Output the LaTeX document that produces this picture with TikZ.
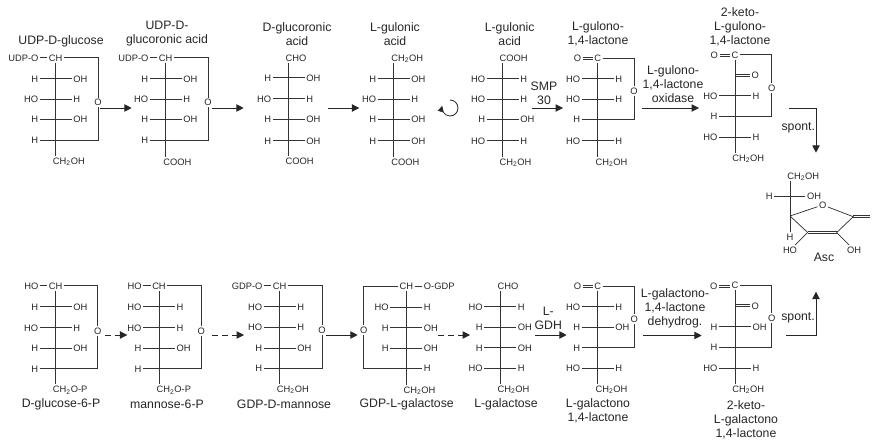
\documentclass[tikz,border=0pt]{standalone}
\usepackage{fontspec}
\setmainfont{Liberation Sans}
\usetikzlibrary{arrows.meta}

\newcommand{\chtwo}{CH\textsubscript{2}}

% one sugar: side groups on each row, then the backbone
\newcommand{\sugarchain}[3]{%
  \coordinate (#1x) at (#2,0);
  \foreach \rowy/\ltext/\rtext [count=\rowi] in {#3} {
    \node[atom,anchor=east] (#1l\rowi) at (#2-16,\rowy) {\ltext};
    \node[atom,anchor=west] (#1r\rowi) at (#2+16,\rowy) {\rtext};
    \draw[bond] (#1l\rowi.east) -- (#1r\rowi.west);
  }
  \draw[bond] (#1top.south -| #1x) -- (#1bot.north -| #1x);
}

% flat double bond
\newcommand{\dblbond}[2]{%
  \draw[bond] ([yshift=0.75pt]#1) -- ([yshift=0.75pt]#2);
  \draw[bond] ([yshift=-0.75pt]#1) -- ([yshift=-0.75pt]#2);
}

\tikzset{
  atom/.style={font=\fontsize{7}{8}\selectfont,inner sep=1pt,text height=5pt,text depth=0pt,text=black!85},
  title/.style={font=\fontsize{9.2}{10.5}\selectfont,align=center,inner sep=0pt,text=black!85},
  bond/.style={line width=0.55pt,black!80},
  rarrow/.style={line width=0.7pt,black!85,-{Triangle[length=5.5pt,width=5.5pt]}},
  darrow/.style={rarrow,dash pattern=on 4.5pt off 3pt}
}

\begin{document}
\begin{tikzpicture}[x=0.75pt,y=-0.75pt]
  \useasboundingbox (0,0) rectangle (872,440);

  % top row, UDP-D-glucose
  \node[title] (t1) at (61,41.7) {UDP-D-glucose};
  \node[atom] (s1top) at (55.7,57.7) {CH};
  \node[atom,anchor=east] (s1udp) at (40,57.7) {UDP-O};
  \node[atom,anchor=west] (s1bot) at (51.3,161) {\chtwo OH};
  \sugarchain{s1}{55.7}{78.7/H/OH,99.3/HO/H,119.3/H/OH,140.3/H/}
  \node[atom] (s1o) at (98,102.5) {O};
  \draw[bond] (s1udp) -- (s1top);
  \draw[bond] (s1top.east) -| (s1o.north);
  \draw[bond] (s1o.south) |- (s1r4.west);

  % UDP-D-glucoronic acid
  \node[title] (t2) at (167,34) {UDP-D-\\glucoronic acid};
  \node[atom] (s2top) at (165.7,57.7) {CH};
  \node[atom,anchor=east] (s2udp) at (150,57.7) {UDP-O};
  \node[atom,anchor=west] (s2bot) at (161.7,162) {COOH};
  \sugarchain{s2}{165.7}{78.7/H/OH,99.3/HO/H,119.3/H/OH,140.3/H/}
  \node[atom] (s2o) at (208,102.5) {O};
  \draw[bond] (s2udp) -- (s2top);
  \draw[bond] (s2top.east) -| (s2o.north);
  \draw[bond] (s2o.south) |- (s2r4.west);

  % D-glucoronic acid
  \node[title] (t3) at (297,34) {D-glucoronic\\acid};
  \node[atom,anchor=west] (s3top) at (284,58) {CHO};
  \node[atom,anchor=west] (s3bot) at (284,161) {COOH};
  \sugarchain{s3}{288.7}{77.7/H/OH,98.7/HO/H,119.3/H/OH,140.7/H/OH}

  % L-gulonic acid
  \node[title] (t4) at (395,34) {L-gulonic\\acid};
  \node[atom,anchor=west] (s4top) at (389.7,58) {\chtwo OH};
  \node[atom,anchor=west] (s4bot) at (389.7,162) {COOH};
  \sugarchain{s4}{393.7}{78.7/H/OH,99.3/HO/H,119.3/H/OH,140.7/H/OH}

  % flipped L-gulonic acid
  \node[title] (t5) at (509.7,34) {L-gulonic\\acid};
  \node[atom,anchor=west] (s5top) at (498,58) {COOH};
  \node[atom,anchor=west] (s5bot) at (498,162) {\chtwo OH};
  \sugarchain{s5}{502.7}{78.7/HO/H,99.3/HO/H,119.3/H/OH,140.7/HO/H}

  % L-gulono-1,4-lactone
  \node[title] (t6) at (598,34) {L-gulono-\\1,4-lactone};
  \node[atom] (s6top) at (597.7,58) {C};
  \node[atom] (s6k) at (577.5,58.5) {O};
  \node[atom,anchor=west] (s6bot) at (594,162) {\chtwo OH};
  \sugarchain{s6}{597.7}{78.7/HO/H,99.3/HO/H,119.3/H/,140.7/HO/H}
  \node[atom] (s6o) at (634,91) {O};
  \dblbond{s6k.east}{s6k.east -| s6top.west}
  \draw[bond] (s6top.east) -| (s6o.north);
  \draw[bond] (s6o.south) |- (s6r3.west);

  % 2-keto-L-gulono-1,4-lactone
  \node[title] (t7) at (740,27) {2-keto-\\L-gulono-\\1,4-lactone};
  \node[atom] (s7top) at (735,54.7) {C};
  \node[atom] (s7k) at (714.3,55.5) {O};
  \node[atom,anchor=west] (s7bot) at (730.7,157.7) {\chtwo OH};
  \sugarchain{s7}{735}{95.7/HO/H,116.3/H/,137/HO/H}
  \node[atom] (s7q) at (755.3,75.3) {O};
  \node[atom] (s7o) at (771.7,87.7) {O};
  \dblbond{s7k.east}{s7k.east -| s7top.west}
  \dblbond{s7q.west -| s7x}{s7q.west}
  \draw[bond] (s7top.east) -| (s7o.north);
  \draw[bond] (s7o.south) |- (s7r2.west);

  % top row arrows
  \coordinate (a1s) at (100,108);
  \coordinate (a1e) at (131.7,108);
  \coordinate (a2s) at (212,108);
  \coordinate (a2e) at (243.7,108);
  \coordinate (a3s) at (327.7,108);
  \coordinate (a3e) at (359.3,108);
  \coordinate (a4s) at (532,108);
  \coordinate (a4e) at (563,108);
  \coordinate (a5s) at (642,108);
  \coordinate (a5e) at (699,108);
  \coordinate (a6s) at (789.3,108);
  \coordinate (a6e) at (816,152.7);
  \draw[rarrow] (a1s) -- (a1e);
  \draw[rarrow] (a2s) -- (a2e);
  \draw[rarrow] (a3s) -- (a3e);
  \draw[rarrow] (a4s) -- (a4e);
  \draw[rarrow] (a5s) -- (a5e);
  \draw[rarrow] (a6s) -| (a6e);
  \node[title] (l4) at (544,93.5) {SMP\\30};
  \node[title] (l5) at (673,84) {L-gulono-\\1,4-lactone\\oxidase};
  \node[title] (l6) at (798.3,128.3) {spont.};

  % turning arrow
  \coordinate (flip) at (450,100);
  \draw[line width=0.6pt,black!85,-{Triangle[length=4.5pt,width=4.5pt]}] (flip) arc[start angle=-90,end angle=196,radius=8];

  % Asc
  \node[atom,anchor=west] (asctop) at (785.7,175.7) {\chtwo OH};
  \node[atom] (aschl) at (769.3,196) {H};
  \node[atom] (ascor) at (814,196) {OH};
  \node[atom] (asch) at (790,236.7) {H};
  \node[atom] (asco) at (822.7,205) {O};
  \node[atom] (aschol) at (790,250) {HO};
  \node[atom] (ascohr) at (854,250) {OH};
  \node[title] (asc) at (824,257) {Asc};
  \coordinate (c4) at (790,216);
  \coordinate (c3) at (807.7,232.5);
  \coordinate (c2) at (836.7,232.5);
  \coordinate (c1) at (853.3,216.7);
  \coordinate (c0) at (870,216.7);
  \draw[bond] (asctop.south -| c4) -- (asch.north);
  \draw[bond] (aschl) -- (ascor);
  \draw[bond] (c4) -- (asco) -- (c1) -- (c2);
  \draw[bond] (c3) -- (c4);
  \dblbond{c3}{c2}
  \dblbond{c1}{c0}
  \draw[bond] (c3) -- (aschol);
  \draw[bond] (c2) -- (ascohr);

  % bottom row, D-glucose-6-P
  \node[title] (b1) at (61,404) {D-glucose-6-P};
  \node[atom] (u1top) at (55.7,285.7) {CH};
  \node[atom,anchor=east] (u1ho) at (40,285.7) {HO};
  \node[atom,anchor=west] (u1bot) at (51.3,389.3) {\chtwo O-P};
  \sugarchain{u1}{55.7}{306.7/H/OH,327.7/HO/H,348.3/H/OH,368.7/H/}
  \node[atom] (u1o) at (97.7,330.7) {O};
  \draw[bond] (u1ho) -- (u1top);
  \draw[bond] (u1top.east) -| (u1o.north);
  \draw[bond] (u1o.south) |- (u1r4.west);

  % mannose-6-P
  \node[title] (b2) at (167,404) {mannose-6-P};
  \node[atom] (u2top) at (159,285.7) {CH};
  \node[atom,anchor=east] (u2ho) at (143.3,285.7) {HO};
  \node[atom,anchor=west] (u2bot) at (155,389.3) {\chtwo O-P};
  \sugarchain{u2}{159}{306.7/HO/H,327.7/HO/H,348.3/H/OH,368.7/H/}
  \node[atom] (u2o) at (201.3,330.7) {O};
  \draw[bond] (u2ho) -- (u2top);
  \draw[bond] (u2top.east) -| (u2o.north);
  \draw[bond] (u2o.south) |- (u2r4.west);

  % GDP-D-mannose
  \node[title] (b3) at (284,404) {GDP-D-mannose};
  \node[atom] (u3top) at (279.7,285.7) {CH};
  \node[atom,anchor=east] (u3gdp) at (264,285.7) {GDP-O};
  \node[atom,anchor=west] (u3bot) at (275.3,388.7) {\chtwo OH};
  \sugarchain{u3}{279.7}{306.7/HO/H,327/HO/H,348/H/OH,368.3/H/}
  \node[atom] (u3o) at (322,330) {O};
  \draw[bond] (u3gdp) -- (u3top);
  \draw[bond] (u3top.east) -| (u3o.north);
  \draw[bond] (u3o.south) |- (u3r4.west);

  % GDP-L-galactose
  \node[title] (b4) at (406.7,404) {GDP-L-galactose};
  \node[atom] (u4top) at (406.3,286) {CH};
  \node[atom,anchor=west] (u4gdp) at (422.3,286) {O-GDP};
  \node[atom,anchor=west] (u4bot) at (402,389.7) {\chtwo OH};
  \sugarchain{u4}{406.3}{307.3/HO/H,327.7/H/OH,348.3/H/OH,368.3//H}
  \node[atom] (u4o) at (363.7,330.3) {O};
  \draw[bond] (u4top) -- (u4gdp);
  \draw[bond] (u4top.west) -| (u4o.north);
  \draw[bond] (u4o.south) |- (u4l4.east);

  % L-galactose
  \node[title] (b5) at (506,404) {L-galactose};
  \node[atom,anchor=west] (u5top) at (496,285.7) {CHO};
  \node[atom,anchor=west] (u5bot) at (496,388.7) {\chtwo OH};
  \sugarchain{u5}{500.3}{306.7/HO/H,327/H/OH,347.7/H/OH,368.3/HO/H}

  % L-galactono-1,4-lactone
  \node[title] (b6) at (598,411) {L-galactono\\1,4-lactone};
  \node[atom] (u6top) at (597.7,286) {C};
  \node[atom] (u6k) at (577.5,286.5) {O};
  \node[atom,anchor=west] (u6bot) at (594,388.7) {\chtwo OH};
  \sugarchain{u6}{597.7}{306.7/HO/H,327/H/OH,347.7/H/,368.3/HO/H}
  \node[atom] (u6o) at (634.3,318.7) {O};
  \dblbond{u6k.east}{u6k.east -| u6top.west}
  \draw[bond] (u6top.east) -| (u6o.north);
  \draw[bond] (u6o.south) |- (u6r3.west);

  % 2-keto-L-galactono-1,4-lactone
  \node[title] (b7) at (746,419.5) {2-keto-\\L-galactono\\1,4-lactone};
  \node[atom] (u7top) at (735,285) {C};
  \node[atom] (u7k) at (713.7,286.3) {O};
  \node[atom,anchor=west] (u7bot) at (730.7,388.7) {\chtwo OH};
  \sugarchain{u7}{735}{326.7/H/OH,347/H/,368.3/HO/H}
  \node[atom] (u7q) at (755.3,305.7) {O};
  \node[atom] (u7o) at (771.7,318.3) {O};
  \dblbond{u7k.east}{u7k.east -| u7top.west}
  \dblbond{u7q.west -| u7x}{u7q.west}
  \draw[bond] (u7top.east) -| (u7o.north);
  \draw[bond] (u7o.south) |- (u7r2.west);

  % bottom row arrows
  \coordinate (d1s) at (105,335);
  \coordinate (d1e) at (127.3,335);
  \coordinate (d2s) at (212,335);
  \coordinate (d2e) at (244,335);
  \coordinate (d3s) at (326,335);
  \coordinate (d3e) at (357.7,335);
  \coordinate (d4s) at (438.3,335);
  \coordinate (d4e) at (470,335);
  \coordinate (d5s) at (535,335);
  \coordinate (d5e) at (566.7,335);
  \coordinate (d6s) at (643.3,335.5);
  \coordinate (d6e) at (701.7,335.5);
  \coordinate (d7s) at (786.3,335);
  \coordinate (d7e) at (816,291.7);
  \draw[darrow] (d1s) -- (d1e);
  \draw[darrow] (d2s) -- (d2e);
  \draw[rarrow] (d3s) -- (d3e);
  \draw[darrow] (d4s) -- (d4e);
  \draw[rarrow] (d5s) -- (d5e);
  \draw[rarrow] (d6s) -- (d6e);
  \draw[rarrow] (d7s) -| (d7e);
  \node[title] (m5) at (548.3,318.5) {L-\\GDH};
  \node[title] (m6) at (675,308.3) {L-galactono-\\1,4-lactone\\dehydrog.};
  \node[title] (m7) at (798,318.3) {spont.};
\end{tikzpicture}
\end{document}
